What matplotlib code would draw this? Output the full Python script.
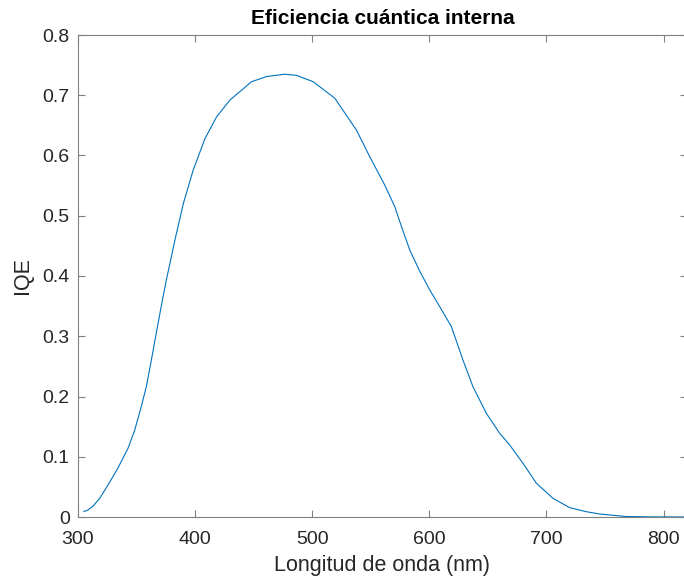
import numpy as np
import matplotlib.pyplot as plt

# Eficiencia cuántica interna vs longitud de onda
longitud = [305, 308.5, 312.8, 318.5, 325.6, 334, 342.7, 348.4, 354, 358.3,
            362.6, 366.8, 371, 375.4, 382.8, 389.9, 398.4, 408.4, 418.3, 429.7,
            448.2, 461, 476.6, 486.6, 500.8, 519.3, 537.8, 549.1, 561.9, 570.5,
            576.2, 583.3, 591.8, 600.3, 608.9, 618.8, 628.8, 637.3, 648.7, 660,
            668.6, 680, 691.4, 705.6, 719.8, 734, 745.4, 768, 790, 820]
iqe = [0.009, 0.0116, 0.018, 0.031, 0.053, 0.081, 0.114, 0.144, 0.183, 0.216,
       0.26, 0.305, 0.349, 0.393, 0.46, 0.52, 0.576, 0.628, 0.664, 0.692,
       0.7225, 0.731, 0.735, 0.733, 0.7225, 0.695, 0.642, 0.598, 0.551, 0.515,
       0.482, 0.443, 0.408, 0.377, 0.349, 0.316, 0.26, 0.216, 0.172, 0.139,
       0.1195, 0.089, 0.056, 0.031, 0.0155, 0.0088, 0.005, 0.0008, 0.0002, 0.0]

plt.rcParams['font.family'] = ['Liberation Sans', 'DejaVu Sans']

fig = plt.figure(figsize=(6.84, 5.81), dpi=100)
ax = fig.add_axes([78 / 684, 64 / 581, 609 / 684, 482 / 581])

ax.plot(longitud, iqe, color='#0072BD', linewidth=0.8)

ax.set_xlim(300, 820)
ax.set_ylim(0, 0.8)
ax.set_xticks(np.arange(300, 801, 100))
ax.set_yticks(np.arange(0, 0.81, 0.1))
ax.set_yticklabels(['0', '0.1', '0.2', '0.3', '0.4', '0.5', '0.6', '0.7', '0.8'])

gris = '#262626'
for s in ax.spines.values():
    s.set_color('#808080')
    s.set_linewidth(0.8)
ax.tick_params(direction='in', length=5, width=0.8, color='#808080',
               labelcolor=gris, labelsize=14, top=True, right=True)
ax.tick_params(axis='x', pad=10)
ax.tick_params(axis='y', pad=6)

ax.set_title('Eficiencia cuántica interna', fontsize=15, fontweight='bold',
             color='black', pad=8)
ax.set_xlabel('Longitud de onda (nm)', fontsize=15.5, color=gris, labelpad=5)
ax.set_ylabel('IQE', fontsize=15.5, color=gris, labelpad=7)

fig.savefig('out.png', dpi=100)
